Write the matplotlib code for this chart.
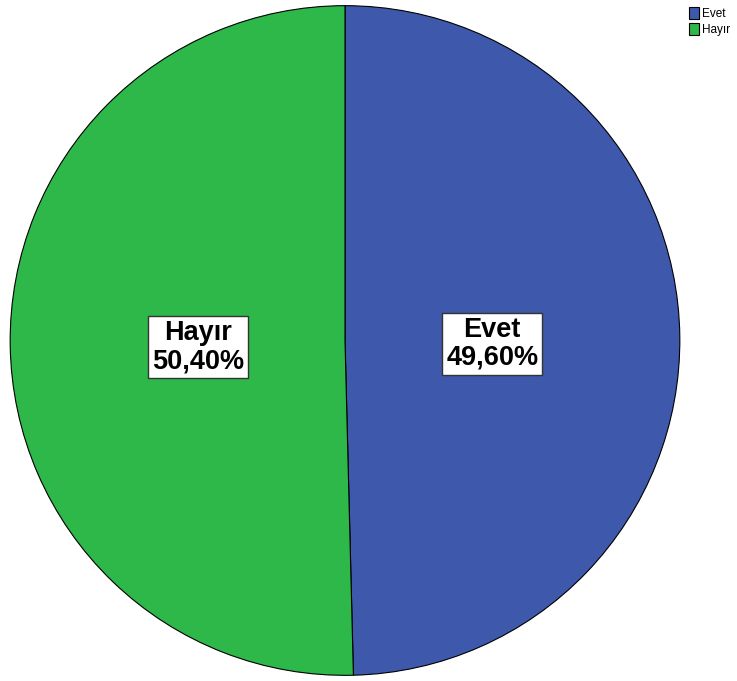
import numpy as np
import matplotlib.pyplot as plt
from matplotlib.patches import Patch

# data
labels = ['Evet', 'Hayır']
values = [49.6, 50.4]
colors = ['#3E58AC', '#2EB84A']

plt.rcParams['font.family'] = ['Liberation Sans', 'DejaVu Sans']

fig = plt.figure(figsize=(7.37, 6.81), dpi=100)
ax = fig.add_axes([8 / 737, 4 / 681, 674 / 737, 673 / 681])

wedges, texts = ax.pie(values, colors=colors, startangle=90, counterclock=False,
                       radius=1.0, labels=None,
                       wedgeprops=dict(edgecolor='black', linewidth=0.8))

# labels inside the slices
for w, lab, v in zip(wedges, labels, values):
    ang = np.deg2rad((w.theta1 + w.theta2) / 2)
    x, y = 0.44 * np.cos(ang), 0.44 * np.sin(ang) - 0.015
    txt = '%s\n%s%%' % (lab, ('%.2f' % v).replace('.', ','))
    ax.text(x, y, txt, ha='center', va='center', fontsize=19.5, fontweight='bold',
            linespacing=1.1,
            bbox=dict(boxstyle='square,pad=0.15', facecolor='white',
                      edgecolor='#333333', linewidth=1))

ax.set_xlim(-1.005, 1.005)
ax.set_ylim(-1.005, 1.005)
ax.set_aspect('equal')
ax.axis('off')

handles = [Patch(facecolor=c, edgecolor='black', linewidth=0.8) for c in colors]
fig.legend(handles, labels, loc='upper left', bbox_to_anchor=(678 / 737, 1.005),
           frameon=False, fontsize=8.5, handlelength=0.9, handleheight=1.1,
           handletextpad=0.25, labelspacing=0.3, borderpad=0.4)

fig.savefig('out.png', dpi=100)
